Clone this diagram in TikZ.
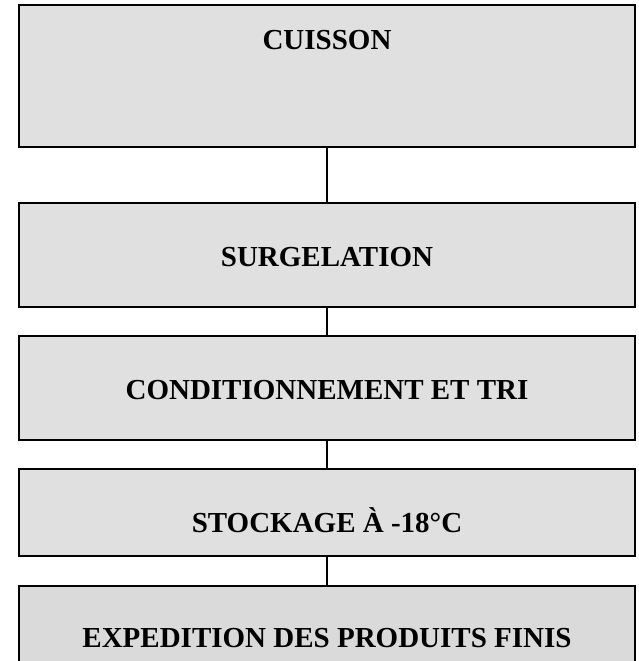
\documentclass[tikz,border=0pt]{standalone}
\usepackage{fontspec}
\setmainfont{Liberation Serif}
\definecolor{boxgrey}{HTML}{E0E0E0}
\definecolor{boxgreyb}{HTML}{DADADA}
\begin{document}
\begin{tikzpicture}[x=1pt,y=-1pt,
  stepbox/.style={draw=black,line width=1.8pt,fill=boxgrey,minimum width=616pt,inner sep=0pt,outer sep=0pt},
  label/.style={anchor=base,inner sep=0pt,font=\fontsize{29}{34}\selectfont\bfseries},
  link/.style={draw=black,line width=1.8pt}]
\useasboundingbox (0,0) rectangle (639,661);
\clip (0,0) rectangle (639,661);
\node[stepbox,minimum height=142pt] (b1) at (327,76) {};
\node[stepbox,minimum height=104pt] (b2) at (327,255) {};
\node[stepbox,minimum height=104pt] (b3) at (327,388) {};
\node[stepbox,minimum height=87pt] (b4) at (327,512.5) {};
\node[stepbox,fill=boxgreyb,minimum height=114pt] (b5) at (327,643) {};
\node[label] (t1) at (327,50) {CUISSON};
\node[label] (t2) at (327,266) {SURGELATION};
\node[label] (t3) at (327,399) {CONDITIONNEMENT ET TRI};
\node[label] (t4) at (327,532) {STOCKAGE À -18°C};
\node[label] (t5) at (327,647) {EXPEDITION DES PRODUITS FINIS};
\draw[link] (b1.south) -- (b2.north);
\draw[link] (b2.south) -- (b3.north);
\draw[link] (b3.south) -- (b4.north);
\draw[link] (b4.south) -- (b5.north);
\end{tikzpicture}
\end{document}
